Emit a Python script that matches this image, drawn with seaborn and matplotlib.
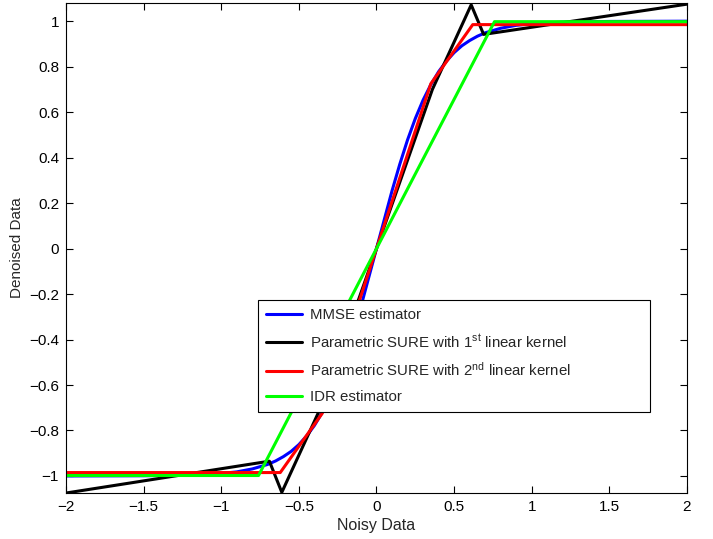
import numpy as np
import pandas as pd
import matplotlib
matplotlib.use("Agg")
import matplotlib.pyplot as plt
import seaborn as sns

# MMSE estimator (smooth sigmoid)
mmse_x = [-2.0, -1.5, -1.2, -1.0, -0.9, -0.8, -0.7, -0.65, -0.6, -0.55, -0.5, -0.45,
          -0.4, -0.35, -0.3, -0.25, -0.2, -0.15, -0.1, 0.0, 0.1, 0.15, 0.2, 0.25,
          0.3, 0.35, 0.4, 0.45, 0.5, 0.55, 0.6, 0.65, 0.7, 0.8, 0.9, 1.0, 1.2, 1.5, 2.0]
mmse_y = [-1.0, -0.999, -0.996, -0.989, -0.982, -0.969, -0.949, -0.934, -0.915, -0.892,
          -0.862, -0.824, -0.778, -0.721, -0.653, -0.572, -0.478, -0.371, -0.254, 0.0,
          0.254, 0.371, 0.478, 0.572, 0.653, 0.721, 0.778, 0.824, 0.862, 0.892, 0.915,
          0.934, 0.949, 0.969, 0.982, 0.989, 0.996, 0.999, 1.0]

# Parametric SURE, 1st linear kernel
sure1_x = [-2.0, -0.69, -0.61, -0.36, 0.36, 0.61, 0.69, 2.0]
sure1_y = [-1.075, -0.935, -1.072, -0.70, 0.70, 1.072, 0.942, 1.075]

# Parametric SURE, 2nd linear kernel
sure2_x = [-2.0, -0.62, -0.35, 0.35, 0.62, 2.0]
sure2_y = [-0.985, -0.985, -0.725, 0.725, 0.985, 0.985]

# IDR estimator
idr_x = [-2.0, -0.76, 0.76, 2.0]
idr_y = [-0.998, -0.998, 0.998, 0.998]

x_ticks = [-2, -1.5, -1, -0.5, 0, 0.5, 1, 1.5, 2]
x_tick_labels = ["\u22122", "\u22121.5", "\u22121", "\u22120.5", "0", "0.5", "1", "1.5", "2"]
y_ticks = [-1, -0.8, -0.6, -0.4, -0.2, 0, 0.2, 0.4, 0.6, 0.8, 1]
y_tick_labels = ["\u22121", "\u22120.8", "\u22120.6", "\u22120.4", "\u22120.2", "0",
                 "0.2", "0.4", "0.6", "0.8", "1"]

series = [
    (mmse_x, mmse_y, "#0000ff", "MMSE estimator"),
    (sure1_x, sure1_y, "#000000", "Parametric SURE with 1$^{st}$ linear kernel"),
    (sure2_x, sure2_y, "#ff0000", "Parametric SURE with 2$^{nd}$ linear kernel"),
    (idr_x, idr_y, "#00ff00", "IDR estimator"),
]

sns.set_style("ticks")
plt.rcParams["font.family"] = ["Liberation Sans", "DejaVu Sans"]
plt.rcParams["mathtext.default"] = "regular"
plt.rcParams["axes.linewidth"] = 0.8

fig, ax = plt.subplots(figsize=(7.13, 5.39), dpi=100)
fig.subplots_adjust(left=0.0926, right=0.9635, top=0.9944, bottom=0.0853)

for xs, ys, col, lab in series:
    df = pd.DataFrame({"x": xs, "y": ys})
    sns.lineplot(data=df, x="x", y="y", color=col, lw=2.2, label=lab,
                 estimator=None, sort=False, ax=ax)

ax.set_xlim(-2, 2)
ax.set_ylim(-1.075, 1.08)
ax.set_xticks(x_ticks)
ax.set_xticklabels(x_tick_labels)
ax.set_yticks(y_ticks)
ax.set_yticklabels(y_tick_labels)
ax.tick_params(direction="in", top=True, right=True, length=5, width=0.8,
               labelsize=11, colors="black", pad=5)
for sp in ax.spines.values():
    sp.set_color("black")
ax.set_xlabel("Noisy Data", fontsize=11.5, labelpad=3)
ax.set_ylabel("Denoised Data", fontsize=11, labelpad=4)

leg = ax.legend(loc="lower left", bbox_to_anchor=(0.309, 0.165, 0.631, 0.225),
                mode="expand", fontsize=10.8, frameon=True, fancybox=False,
                edgecolor="black", framealpha=1, handlelength=2.4,
                handletextpad=0.55, labelspacing=0.72, borderaxespad=0,
                borderpad=0.55)
leg.get_frame().set_linewidth(0.8)

fig.savefig("out.png", dpi=100)
